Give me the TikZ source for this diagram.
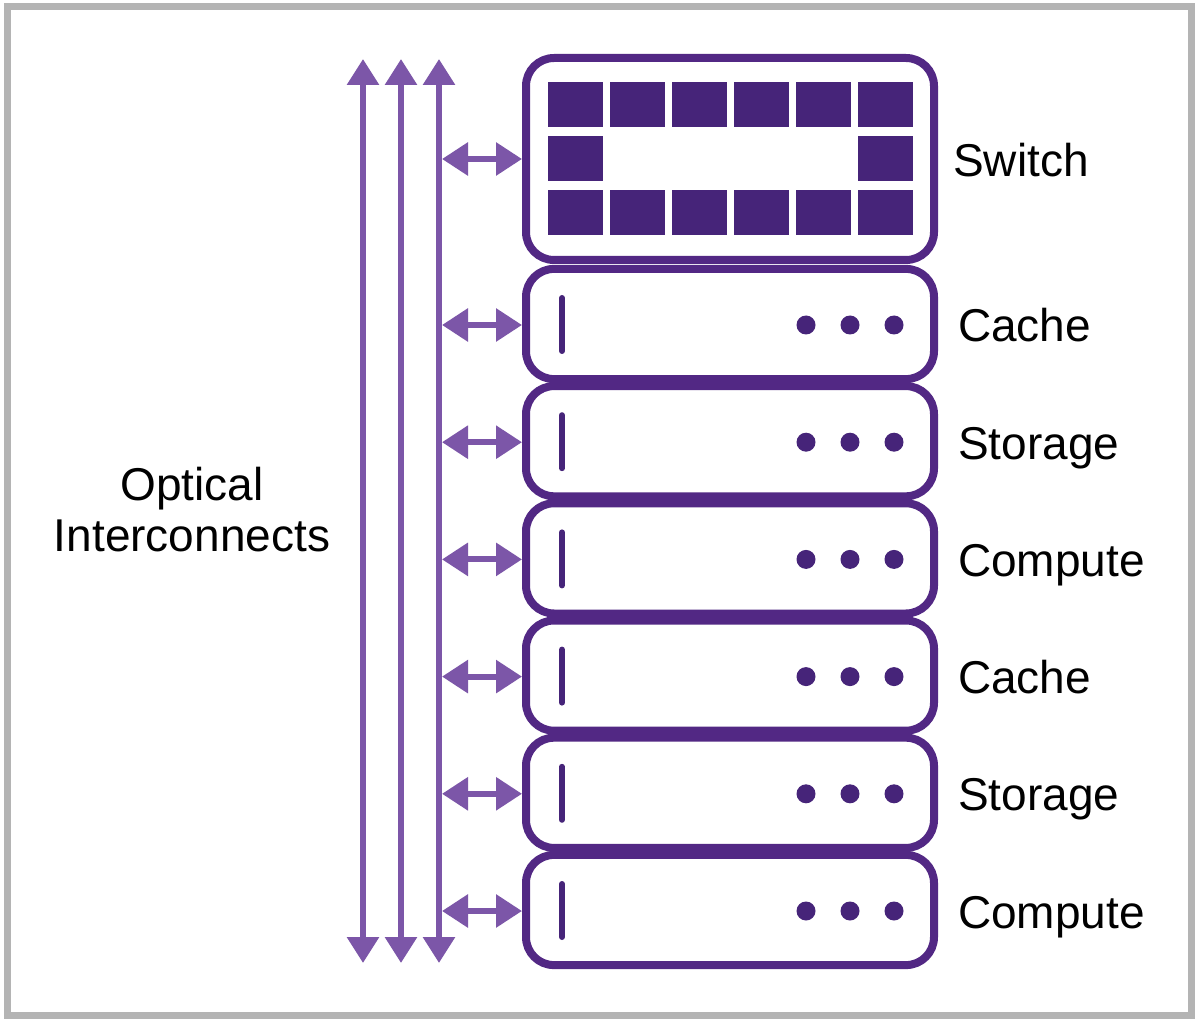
\documentclass[tikz,border=0pt]{standalone}
\usepackage{fontspec}
\setmainfont{Liberation Sans}
\usetikzlibrary{arrows.meta}
\definecolor{boxc}{RGB}{82,40,132}
\definecolor{sqc}{RGB}{70,36,121}
\definecolor{arrc}{RGB}{124,86,168}
\definecolor{framec}{RGB}{180,180,180}
\begin{document}
\begin{tikzpicture}[x=1pt,y=-1pt,
  frame/.style={draw=framec,line width=7pt},
  box/.style={draw=boxc,line width=8pt,rounded corners=28pt,minimum width=408pt,inner sep=0pt,fill=white},
  server/.style={box,minimum height=110.2pt},
  switchbox/.style={box,minimum height=202pt},
  lbl/.style={anchor=base west,font=\fontsize{46}{51}\selectfont,text=black,inner sep=0pt},
  varrow/.style={draw=arrc,line width=6pt,{Triangle[length=26pt,width=31pt]}-{Triangle[length=26pt,width=31pt]}},
  harrow/.style={draw=arrc,line width=6pt,{Triangle[length=26pt,width=32pt]}-{Triangle[length=26pt,width=32pt]}},
  sq/.style={fill=sqc},
  led/.style={draw=sqc,line width=6pt,line cap=round},
  dotc/.style={fill=sqc}
]
\useasboundingbox (0,0) rectangle (1200,1024);
\fill[white] (0,0) rectangle (1200,1024);
\draw[frame] (7,7) rectangle (1191,1015);

% switch
\node[switchbox] (sw) at (730,159) {};
\foreach \k in {0,...,5} {
  \fill[sq] (548+62*\k,82) rectangle ++(55,45);
  \fill[sq] (548+62*\k,190) rectangle ++(55,45);
}
\fill[sq] (548,136) rectangle ++(55,45);
\fill[sq] (858,136) rectangle ++(55,45);
\node[lbl] (swl) at (953,177) {Switch};

% servers
\foreach \i/\name/\txt in {0/s0/Cache,1/s1/Storage,2/s2/Compute,3/s3/Cache,4/s4/Storage,5/s5/Compute} {
  \pgfmathsetmacro{\c}{324+117.2*\i}
  \node[server] (\name) at (730,\c) {};
  \draw[led] (562,\c-26) -- (562,\c+27);
  \fill[dotc] (806,\c+1) circle (9.5);
  \fill[dotc] (850,\c+1) circle (9.5);
  \fill[dotc] (894,\c+1) circle (9.5);
  \node[lbl] (\name l) at (958,\c+18) {\txt};
  \coordinate (\name a) at (442,\c+1);
  \draw[harrow] (\name a) -- (\name.west |- \name a);
}

% switch arrow
\coordinate (swa) at (442,159);
\draw[harrow] (swa) -- (sw.west |- swa);

% vertical optical buses
\foreach \x/\n in {363/v1,401/v2,439/v3} {
  \coordinate (\n t) at (\x,59);
  \coordinate (\n b) at (\x,963);
  \draw[varrow] (\n t) -- (\n b);
}

\node[font=\fontsize{46}{51}\selectfont,align=center,anchor=base,inner sep=0pt] (oi) at (192,551) {Optical\\Interconnects};
\end{tikzpicture}
\end{document}
